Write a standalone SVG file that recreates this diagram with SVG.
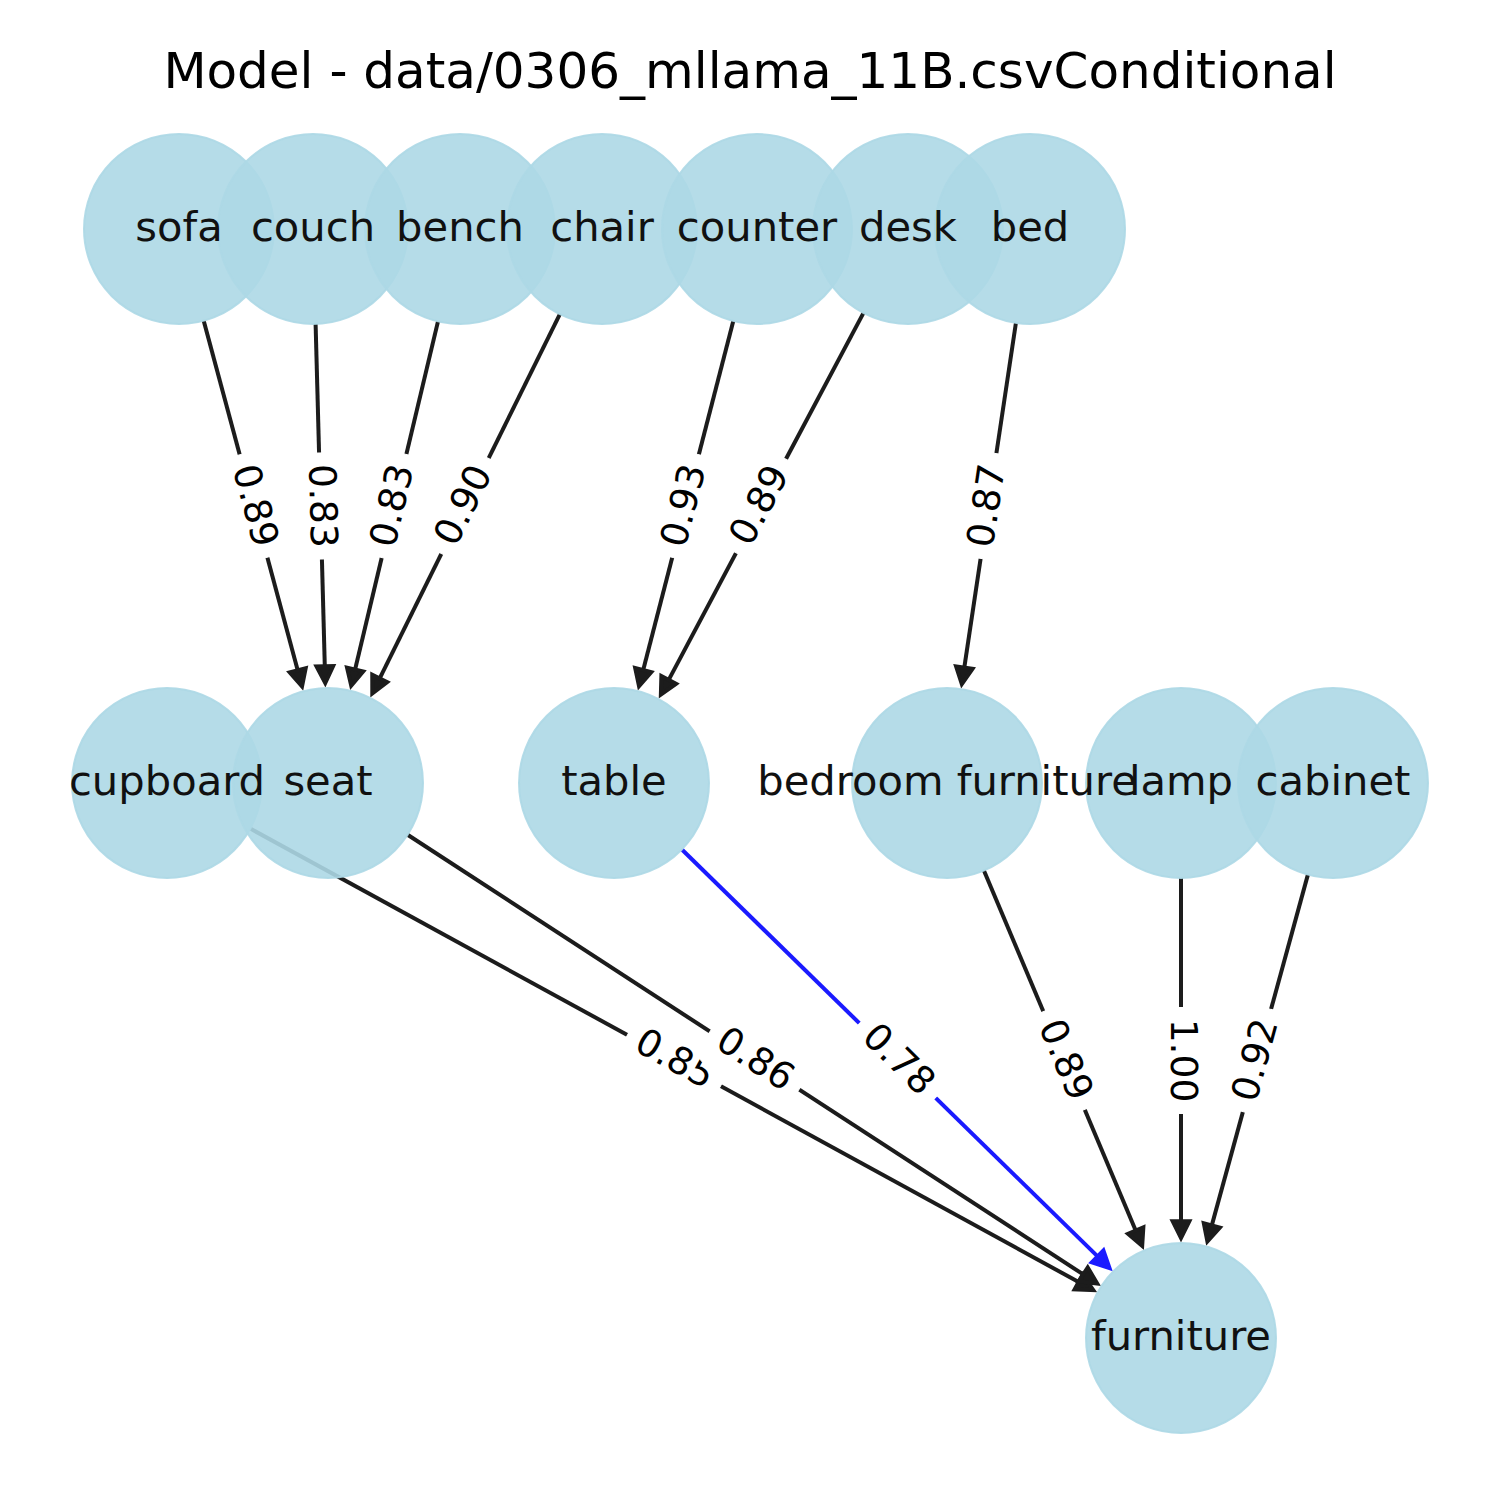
<svg xmlns="http://www.w3.org/2000/svg" width="1500" height="1500" viewBox="0 0 1500 1500">
<style>
.node circle{fill:#ADD8E6;fill-opacity:0.9;stroke:#ADD8E6;stroke-opacity:0.9;stroke-width:2}
.nl{font-family:"DejaVu Sans",sans-serif;font-size:41.67px;fill:#111;text-anchor:middle}
.e{stroke:#1c1c1c;stroke-width:4;fill:none;marker-end:url(#ah)}
.eb{stroke:#1a1aff;stroke-width:4;fill:none;marker-end:url(#ahb)}
.el rect{fill:#fff;stroke:#fff;stroke-width:1}
.el text{font-family:"DejaVu Sans",sans-serif;font-size:37.5px;fill:#000;text-anchor:middle}
.title{font-family:"DejaVu Sans",sans-serif;font-size:50px;fill:#000;text-anchor:middle}
</style>
<defs>
<marker id="ah" markerUnits="userSpaceOnUse" markerWidth="40" markerHeight="40" viewBox="-10 -20 40 40" refX="0" refY="0" orient="auto" overflow="visible">
<path d="M0,-8.3 L16.7,0 L0,8.3 Z" fill="#1c1c1c" stroke="#1c1c1c" stroke-width="4" stroke-linejoin="miter"/>
</marker>
<marker id="ahb" markerUnits="userSpaceOnUse" markerWidth="40" markerHeight="40" viewBox="-10 -20 40 40" refX="0" refY="0" orient="auto" overflow="visible">
<path d="M0,-8.3 L16.7,0 L0,8.3 Z" fill="#1a1aff" stroke="#1a1aff" stroke-width="4" stroke-linejoin="miter"/>
</marker>
</defs>
<rect width="1500" height="1500" fill="#fff"/>
<text class="title" x="750" y="88">Model - data/0306_mllama_11B.csvConditional</text>
<g id="connectors">
<line class="e" x1="203.7" y1="320.7" x2="297.7" y2="670.3"/>
<line class="e" x1="315.6" y1="324.0" x2="324.8" y2="666.3"/>
<line class="e" x1="438.0" y1="321.4" x2="355.1" y2="669.5"/>
<line class="e" x1="559.9" y1="314.2" x2="379.7" y2="678.4"/>
<line class="e" x1="733.3" y1="321.0" x2="643.2" y2="670.0"/>
<line class="e" x1="863.5" y1="312.9" x2="668.7" y2="679.9"/>
<line class="e" x1="1015.9" y1="323.0" x2="964.3" y2="667.6"/>
<line class="e" x1="250.3" y1="828.6" x2="1078.6" y2="1282.0"/>
<line class="e" x1="407.6" y1="834.8" x2="1083.2" y2="1274.4"/>
<line class="eb" x1="681.9" y1="849.5" x2="1097.6" y2="1256.4"/>
<line class="e" x1="983.9" y1="870.5" x2="1135.7" y2="1230.5"/>
<line class="e" x1="1181" y1="878" x2="1181" y2="1221.3"/>
<line class="e" x1="1307.9" y1="874.6" x2="1211.8" y2="1225.4"/>
</g>
<g id="node-sofa" class="node"><circle cx="179" cy="229" r="95"/></g>
<g id="node-couch" class="node"><circle cx="313" cy="229" r="95"/></g>
<g id="node-bench" class="node"><circle cx="460" cy="229" r="95"/></g>
<g id="node-chair" class="node"><circle cx="602" cy="229" r="95"/></g>
<g id="node-counter" class="node"><circle cx="757" cy="229" r="95"/></g>
<g id="node-desk" class="node"><circle cx="908" cy="229" r="95"/></g>
<g id="node-bed" class="node"><circle cx="1030" cy="229" r="95"/></g>
<g id="node-cupboard" class="node"><circle cx="167" cy="783" r="95"/></g>
<g id="node-seat" class="node"><circle cx="328" cy="783" r="95"/></g>
<g id="node-table" class="node"><circle cx="614" cy="783" r="95"/></g>
<g id="node-bedroom-furniture" class="node"><circle cx="947" cy="783" r="95"/></g>
<g id="node-lamp" class="node"><circle cx="1181" cy="783" r="95"/></g>
<g id="node-cabinet" class="node"><circle cx="1333" cy="783" r="95"/></g>
<g id="node-furniture" class="node"><circle cx="1181" cy="1338" r="95"/></g>
<g id="node-labels">
<text class="nl" x="179" y="240.5">sofa</text>
<text class="nl" x="313" y="240.5">couch</text>
<text class="nl" x="460" y="240.5">bench</text>
<text class="nl" x="602" y="240.5">chair</text>
<text class="nl" x="757" y="240.5">counter</text>
<text class="nl" x="908" y="240.5">desk</text>
<text class="nl" x="1030" y="240.5">bed</text>
<text class="nl" x="167" y="794.5">cupboard</text>
<text class="nl" x="328" y="794.5">seat</text>
<text class="nl" x="614" y="794.5">table</text>
<text class="nl" x="947" y="794.5">bedroom furniture</text>
<text class="nl" x="1181" y="794.5">lamp</text>
<text class="nl" x="1333" y="794.5">cabinet</text>
<text class="nl" x="1181" y="1349.5">furniture</text>
</g>
<g id="edge-labels">
<g class="el" transform="translate(253.5,506) rotate(74.9)"><rect x="-53" y="-29.5" width="106" height="59" rx="11.25"/><text y="10.4">0.89</text></g>
<g class="el" transform="translate(320.5,506) rotate(88.4)"><rect x="-53" y="-29.5" width="106" height="59" rx="11.25"/><text y="10.4">0.83</text></g>
<g class="el" transform="translate(394,506) rotate(-76.6)"><rect x="-53" y="-29.5" width="106" height="59" rx="11.25"/><text y="10.4">0.83</text></g>
<g class="el" transform="translate(465,506) rotate(-63.7)"><rect x="-53" y="-29.5" width="106" height="59" rx="11.25"/><text y="10.4">0.90</text></g>
<g class="el" transform="translate(685.5,506) rotate(-75.5)"><rect x="-53" y="-29.5" width="106" height="59" rx="11.25"/><text y="10.4">0.93</text></g>
<g class="el" transform="translate(761,506) rotate(-62.05)"><rect x="-53" y="-29.5" width="106" height="59" rx="11.25"/><text y="10.4">0.89</text></g>
<g class="el" transform="translate(988.5,506) rotate(-81.5)"><rect x="-53" y="-29.5" width="106" height="59" rx="11.25"/><text y="10.4">0.87</text></g>
<g class="el" transform="translate(674,1060.5) rotate(28.7)"><rect x="-53" y="-29.5" width="106" height="59" rx="11.25"/><text y="10.4">0.85</text></g>
<g class="el" transform="translate(754.5,1060.5) rotate(33.05)"><rect x="-53" y="-29.5" width="106" height="59" rx="11.25"/><text y="10.4">0.86</text></g>
<g class="el" transform="translate(897.5,1060.5) rotate(44.4)"><rect x="-53" y="-29.5" width="106" height="59" rx="11.25"/><text y="10.4">0.78</text></g>
<g class="el" transform="translate(1064,1060.5) rotate(67.1)"><rect x="-53" y="-29.5" width="106" height="59" rx="11.25"/><text y="10.4">0.89</text></g>
<g class="el" transform="translate(1181,1060.5) rotate(90)"><rect x="-53" y="-29.5" width="106" height="59" rx="11.25"/><text y="10.4">1.00</text></g>
<g class="el" transform="translate(1257,1060.5) rotate(-74.7)"><rect x="-53" y="-29.5" width="106" height="59" rx="11.25"/><text y="10.4">0.92</text></g>
</g>
</svg>
